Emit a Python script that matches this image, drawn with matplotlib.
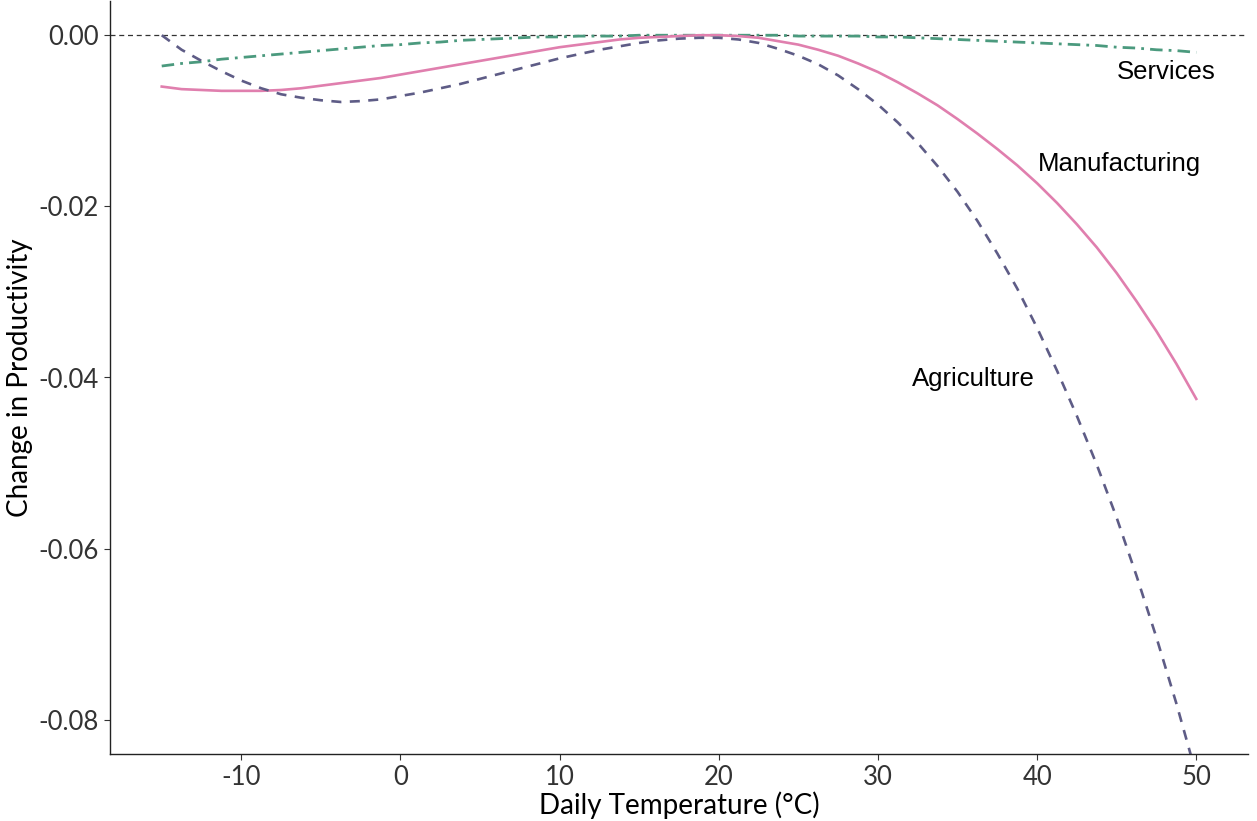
import numpy as np
import matplotlib
matplotlib.use("Agg")
import matplotlib.pyplot as plt

# Daily temperature grid (°C)
temperature = [-15, -13.75, -12.5, -11.25, -10, -8.75, -7.5, -6.25, -5, -3.75, -2.5, -1.25,
               0, 1.25, 2.5, 3.75, 5, 6.25, 7.5, 8.75, 10, 11.25, 12.5, 13.75, 15, 16.25,
               17.5, 18.75, 20, 21.25, 22.5, 23.75, 25, 26.25, 27.5, 28.75, 30, 31.25,
               32.5, 33.75, 35, 36.25, 37.5, 38.75, 40, 41.25, 42.5, 43.75, 45, 46.25,
               47.5, 48.75, 50]

# Change in productivity
agriculture = [0.0000, -0.0017, -0.0030, -0.0042, -0.0053, -0.0062, -0.0069, -0.0073,
               -0.0076, -0.0078, -0.0077, -0.0075, -0.0071, -0.0067, -0.0062, -0.0057,
               -0.0051, -0.0045, -0.0039, -0.0033, -0.0027, -0.0022, -0.0017, -0.0013,
               -0.0009, -0.0006, -0.0004, -0.0003, -0.0003, -0.0005, -0.0009, -0.0016,
               -0.0024, -0.0034, -0.0047, -0.0063, -0.0081, -0.0102, -0.0126, -0.0153,
               -0.0183, -0.0217, -0.0255, -0.0296, -0.0342, -0.0392, -0.0445, -0.0502,
               -0.0564, -0.0632, -0.0704, -0.0781, -0.0864]
manufacturing = [-0.0060, -0.0063, -0.0064, -0.0065, -0.0065, -0.0065, -0.0064, -0.0062,
                 -0.0059, -0.0056, -0.0053, -0.0050, -0.0046, -0.0042, -0.0038, -0.0034,
                 -0.0030, -0.0026, -0.0022, -0.0018, -0.0014, -0.0011, -0.0008, -0.0005,
                 -0.0003, -0.0002, -0.0001, 0.0000, 0.0000, -0.0001, -0.0003, -0.0007,
                 -0.0011, -0.0017, -0.0024, -0.0033, -0.0043, -0.0055, -0.0068, -0.0082,
                 -0.0098, -0.0115, -0.0133, -0.0152, -0.0173, -0.0196, -0.0221, -0.0248,
                 -0.0278, -0.0311, -0.0346, -0.0384, -0.0425]
services = [-0.0036, -0.0033, -0.0031, -0.0028, -0.0026, -0.0024, -0.0022, -0.0020,
            -0.0018, -0.0016, -0.0014, -0.0012, -0.0011, -0.0009, -0.0008, -0.0006,
            -0.0005, -0.0004, -0.0003, -0.0002, -0.0002, -0.0001, -0.0001, -0.0001,
            0.0000, 0.0000, 0.0000, 0.0000, 0.0000, 0.0000, 0.0000, 0.0000,
            -0.0001, -0.0001, -0.0001, -0.0001, -0.0002, -0.0002, -0.0003, -0.0004,
            -0.0005, -0.0006, -0.0007, -0.0008, -0.0009, -0.0010, -0.0011, -0.0012,
            -0.0014, -0.0015, -0.0017, -0.0018, -0.0020]

labels = ["Agriculture", "Manufacturing", "Services"]
label_pos = [(36, -0.0402), (45.2, -0.0150), (48.1, -0.0043)]

xticks = [-10, 0, 10, 20, 30, 40, 50]
yticks = [0.00, -0.02, -0.04, -0.06, -0.08]

fig = plt.figure(figsize=(12.57, 8.21), dpi=100)
ax = fig.add_axes([110 / 1257, 67 / 821, 1138 / 1257, 753 / 821])

ax.axhline(0, color="#333333", lw=0.9, dashes=(4, 3), zorder=1)

ax.plot(temperature, services, color="#4b9a7e", lw=2.0, dashes=(4.5, 2.2, 1, 2.2),
        solid_capstyle="butt", dash_capstyle="butt")
ax.plot(temperature, manufacturing, color="#e07fae", lw=1.9)
ax.plot(temperature, agriculture, color="#5e5c86", lw=1.9, dashes=(3.8, 3.2),
        dash_capstyle="butt")

for text, (x, y) in zip(labels, label_pos):
    ax.text(x, y, text, ha="center", va="center", fontsize=18.5,
            family="Liberation Sans", color="black")

ax.set_xlim(-18.25, 53.25)
ax.set_ylim(-0.084, 0.004)
ax.set_xticks(xticks)
ax.set_yticks(yticks)
ax.set_xticklabels(["%d" % t for t in xticks])
ax.set_yticklabels(["%.2f" % t for t in yticks])

for side in ["top", "right"]:
    ax.spines[side].set_visible(False)
for side in ["left", "bottom"]:
    ax.spines[side].set_linewidth(1.0)
    ax.spines[side].set_color("#222222")

ax.tick_params(axis="both", length=4, width=0.8, color="#333333",
               labelsize=18.5, labelcolor="#333333", pad=4)
for lab in ax.get_xticklabels() + ax.get_yticklabels():
    lab.set_family("Lato")

ax.set_xlabel("Daily Temperature (°C)", family="Lato", fontsize=20, labelpad=1)
ax.set_ylabel("Change in Productivity", family="Lato", fontsize=20, labelpad=4)

fig.savefig("out.png", dpi=100)
